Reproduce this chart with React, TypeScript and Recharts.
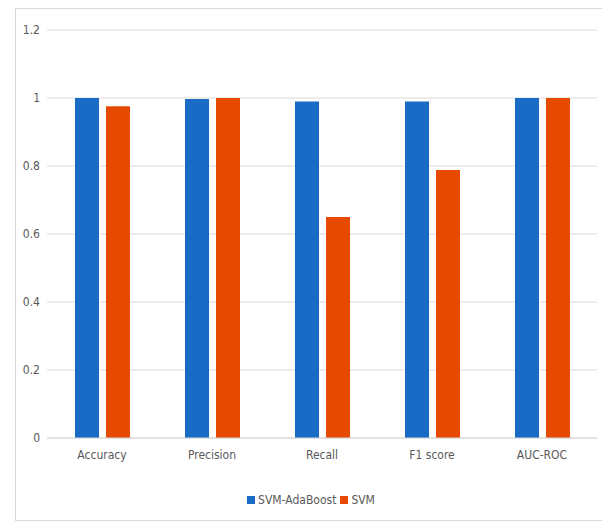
import { Bar, BarChart, CartesianGrid, Legend, XAxis, YAxis } from "recharts";

const metrics = ["Accuracy", "Precision", "Recall", "F1 score", "AUC-ROC"];
const adaBoostScores = [1.0, 0.997, 0.99, 0.99, 1.0];
const svmScores = [0.976, 1.0, 0.65, 0.788, 1.0];
const yTicks = [0, 0.2, 0.4, 0.6, 0.8, 1, 1.2];
const seriesNames = ["SVM-AdaBoost", "SVM"];
const seriesColors = ["#1a6bc5", "#e64a00"];

const font = '"Liberation Sans Narrow", "DejaVu Sans Condensed", "Liberation Sans", sans-serif';
const textColor = "#595959";
const gridColor = "#d9d9d9";

const data = metrics.map((metric, i) => ({
  metric,
  adaboost: adaBoostScores[i],
  svm: svmScores[i]
}));

function LegendBox() {
  return (
    <div style={{ display: "flex", justifyContent: "center", alignItems: "center", paddingTop: 24, gap: 4 }}>
      {seriesNames.map((name, i) => (
        <div key={name} style={{ display: "flex", alignItems: "center", gap: 3 }}>
          <span style={{ display: "inline-block", width: 8, height: 8, background: seriesColors[i] }} />
          <span style={{ fontSize: 12, color: textColor, lineHeight: "16px" }}>{name}</span>
        </div>
      ))}
    </div>
  );
}

export default function App() {
  return (
    <div
      style={{
        marginLeft: 7,
        width: 590,
        height: 513,
        border: `1px solid ${gridColor}`,
        boxSizing: "border-box",
        fontFamily: font,
        background: "#fff"
      }}
    >
      <BarChart
        width={588}
        height={511}
        data={data}
        margin={{ top: 21, right: 7, left: 9, bottom: 12 }}
        barSize={24}
        barGap={7}
      >
        <CartesianGrid vertical={false} stroke={gridColor} />
        <XAxis
          dataKey="metric"
          height={30}
          axisLine={{ stroke: gridColor }}
          tickLine={false}
          tickMargin={6}
          tick={{ fill: textColor, fontSize: 12, fontFamily: font }}
        />
        <YAxis
          domain={[0, 1.2]}
          ticks={yTicks}
          width={22}
          axisLine={false}
          tickLine={false}
          tickSize={7}
          tickMargin={0}
          tickFormatter={(v: number) => String(Math.round(v * 10) / 10)}
          tick={{ fill: textColor, fontSize: 12, fontFamily: font }}
        />
        <Legend verticalAlign="bottom" content={<LegendBox />} />
        <Bar dataKey="adaboost" name={seriesNames[0]} fill={seriesColors[0]} isAnimationActive={false} />
        <Bar dataKey="svm" name={seriesNames[1]} fill={seriesColors[1]} isAnimationActive={false} />
      </BarChart>
    </div>
  );
}
